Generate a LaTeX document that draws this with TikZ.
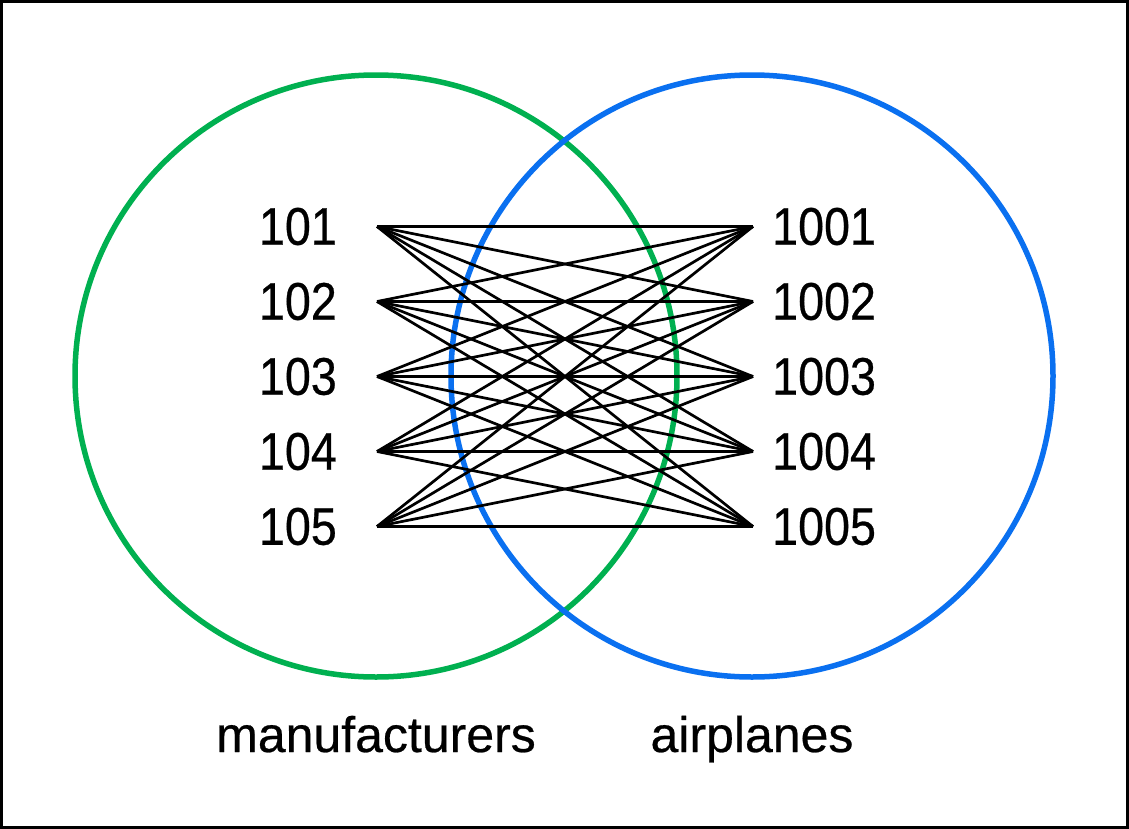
\documentclass[tikz,border=0pt]{standalone}
\usepackage{fontspec}
\setmainfont{Liberation Sans}[FakeBold=0.5]
\newfontfamily\numfont{Liberation Sans}[FakeStretch=0.88,FakeBold=0.5]
\definecolor{vgreen}{RGB}{0,176,80}
\definecolor{vblue}{RGB}{10,112,240}
\begin{document}
\begin{tikzpicture}[x=1bp,y=-1bp,
  setcircle/.style={line width=5.5bp},
  numlabel/.style={inner sep=0pt,font=\numfont\fontsize{53bp}{60bp}\selectfont},
  setlabel/.style={inner sep=0pt,anchor=base,font=\fontsize{50bp}{60bp}\selectfont},
  edge/.style={line width=2.7bp,black}]
\useasboundingbox (0,0) rectangle (1129,829);
\draw[line width=3bp] (1.5,1.5) rectangle (1127.5,827.5);
\draw[setcircle,vgreen] (376,376) circle[radius=301];
\draw[setcircle,vblue] (752,376) circle[radius=301];
\foreach \i/\t in {1/101,2/102,3/103,4/104,5/105}{
  \node[numlabel,anchor=east] (m\i) at (337,{226.5+75*(\i-1)}) {\t};
  \coordinate (L\i) at (377,{226.5+75*(\i-1)});
}
\foreach \i/\t in {1/1001,2/1002,3/1003,4/1004,5/1005}{
  \node[numlabel,anchor=west] (a\i) at (772,{226.5+75*(\i-1)}) {\t};
  \coordinate (R\i) at (753,{226.5+75*(\i-1)});
}
\foreach \i in {1,...,5}{
  \foreach \j in {1,...,5}{
    \draw[edge] (L\i) -- (R\j);
  }
}
\node[setlabel] (manu) at (376,752) {manufacturers};
\node[setlabel] (air) at (752,752) {airplanes};
\end{tikzpicture}
\end{document}
